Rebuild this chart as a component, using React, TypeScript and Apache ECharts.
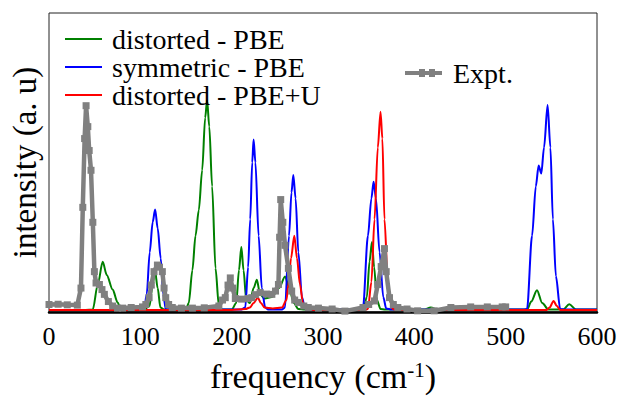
import React, { useEffect, useRef } from "react";
import * as echarts from "echarts";

const FONT = "Liberation Serif";

const tickValues = [0, 100, 200, 300, 400, 500, 600];

const greenFreq = [0, 40, 47.9, 53.4, 58.8, 63.2, 69.7, 75.1, 78.8, 104, 110, 113, 116, 119, 122, 126, 150, 153, 157, 160.4, 164, 167.7, 171, 173.1, 175.5, 178.6, 182.3, 186, 190, 200, 205, 208, 210.6, 213, 216, 220, 224, 227.6, 231, 236, 244, 252, 258.4, 263, 268, 273, 280, 344, 348, 351, 353.6, 356, 359, 363, 368, 410, 418, 426, 523.4, 528, 534.3, 540, 547, 563, 569.6, 577, 600];
const greenInt = [0.7, 0.7, 0.8, 9.2, 16.8, 12.4, 7.5, 3.2, 0.8, 0.8, 2, 8, 14, 8, 1.5, 0.8, 0.8, 3, 14, 25.5, 34, 47.4, 65, 70.8, 62, 42, 14.6, 2, 0.8, 0.8, 3, 14, 21.7, 14, 4, 3, 8, 10.8, 6, 4.5, 5, 8, 11.9, 8, 3, 1, 0.8, 0.8, 5, 17, 23.4, 15, 4, 1, 0.8, 0.8, 1.5, 0.8, 0.8, 3.5, 7.3, 3, 0.8, 0.8, 2.6, 0.8, 0.8];

const blueFreq = [0, 100, 104.2, 107, 110.3, 113.5, 116.2, 119, 122.3, 125, 128, 210, 214.9, 218, 220.3, 222.5, 224, 226, 229.5, 233, 236.7, 240, 255, 258.4, 262.8, 265.5, 267.5, 270, 273, 277, 280.2, 285, 340, 343.8, 349.2, 353, 355.4, 358, 361.9, 366, 369.2, 375, 520, 523.4, 528.9, 533, 536.1, 539, 542, 545.9, 549, 551.7, 555, 559.7, 565, 600];
const blueInt = [0.7, 0.7, 0.8, 6, 20, 30, 34.3, 28, 18, 6, 0.8, 0.8, 1.5, 15, 31, 50, 57.7, 50, 25.5, 8, 1.5, 0.8, 0.8, 1.5, 25.5, 40, 45.8, 38, 20, 5, 1.2, 0.8, 0.8, 1.5, 25.5, 38, 43.6, 38, 20, 5, 1.2, 0.8, 0.8, 1, 25.5, 42, 49, 46.3, 55, 69.2, 55, 31, 12, 1, 0.8, 0.8];

const redFreq = [0, 200, 215, 220, 224, 228.7, 232, 236, 245, 255, 260, 262.1, 265, 268.6, 271.5, 274.8, 278, 282, 290, 345, 349.2, 353, 356.4, 360, 363, 365, 367.3, 371, 374, 376.5, 380, 545, 548, 552.5, 556, 559.7, 600];
const redInt = [0.7, 0.7, 1, 1.5, 3, 4.8, 3, 1.5, 1.2, 1.5, 4, 9.2, 18, 25.5, 18, 9.2, 3, 1, 0.7, 0.7, 1, 10, 31, 55, 67, 58, 31, 10, 3, 1, 0.7, 0.7, 1.5, 3.7, 2, 0.7, 0.7];

const exptFreq = [0, 10, 20, 31, 35, 37, 39, 40.6, 42.5, 44, 46, 48, 49.7, 51.5, 55.2, 58, 60.6, 65, 69.7, 75, 80.6, 90, 102.4, 106, 109.6, 112, 115, 118.7, 121, 124.1, 126, 127.8, 131, 135, 145, 157, 170, 186, 190, 193, 196, 198.5, 201, 204, 211, 218, 222, 226, 231.2, 238, 244, 248, 251.2, 252.5, 253.7, 256, 258.4, 262.1, 265.7, 269, 273, 279, 283.9, 295, 310, 324, 343.8, 350, 356.4, 360, 363.7, 367.3, 369.2, 372.8, 377, 381.9, 392, 403.6, 421.7, 440, 461.7, 479.9, 496.2, 500];
const exptInt = [2.5, 2.6, 2.4, 2.3, 8, 35, 58, 69, 62, 54, 47.4, 30, 13.5, 9.7, 9.2, 7.5, 5.9, 3.5, 2, 1.3, 1.3, 1.5, 1.7, 2.5, 4.8, 9, 13.5, 15.7, 15, 13.5, 8, 4.8, 2.5, 1.5, 1.3, 1.3, 1.4, 2, 4, 4.8, 9, 11.4, 8, 4.5, 4.3, 4.5, 4.8, 5.8, 6.5, 6, 5.9, 7, 9.2, 25, 37.6, 30, 22.3, 14.6, 7, 4, 3.2, 2, 1.5, 1.3, 1, 0.3, 1.5, 2.5, 3.7, 9.2, 15.2, 21.2, 13.5, 4.8, 2.5, 1.5, 1, 0.4, 0.4, 1.5, 1.7, 1.7, 1.7, 1.7];

const zip = (xs: number[], ys: number[]) => xs.map((x, i) => [x, ys[i]]);

export default function App() {
  const ref = useRef<HTMLDivElement>(null);
  useEffect(() => {
    if (!ref.current) return;
    const chart = echarts.init(ref.current, null, { renderer: "svg" });
    const calc = (name: string, color: string, data: number[][]) => ({
      name,
      type: "line",
      data,
      symbol: "none",
      smooth: 0.3,
      smoothMonotone: "x",
      lineStyle: { color, width: 2 },
      itemStyle: { color },
      z: 3,
    });
    chart.setOption({
      animation: false,
      backgroundColor: "#fff",
      grid: {
        left: 46,
        right: 24,
        top: 13,
        bottom: 81,
        show: true,
        borderColor: "#222",
        borderWidth: 1,
        backgroundColor: "transparent",
      },
      legend: [
        {
          data: ["distorted - PBE", "symmetric - PBE", "distorted - PBE+U"],
          orient: "vertical",
          left: 60,
          top: 20,
          icon: "path://M0,0H37V2H0Z",
          itemWidth: 37,
          itemHeight: 2,
          itemGap: 0,
          textStyle: { fontFamily: FONT, fontSize: 28, color: "#000", lineHeight: 28, padding: [0, 0, 0, 5] },
        },
        {
          data: ["Expt."],
          left: 400,
          top: 54,
          icon: "path://M0,2H37V6H0Z M14,0H20V8H14Z M24,0H30V8H24Z",
          itemWidth: 37,
          itemHeight: 8,
          textStyle: { fontFamily: FONT, fontSize: 28, color: "#000", lineHeight: 28, padding: [0, 0, 0, 6] },
        },
      ],
      xAxis: {
        type: "value",
        min: 0,
        max: 600,
        interval: 100,
        axisLine: { show: true, onZero: false, lineStyle: { color: "#000", width: 2.5 } },
        axisTick: { show: false },
        splitLine: { show: false },
        axisLabel: {
          fontFamily: FONT,
          fontSize: 26,
          color: "#000",
          margin: 11,
          formatter: (v: number) => (tickValues.includes(v) ? String(v) : ""),
        },
        name: "frequency (cm{sup|-1})",
        nameLocation: "middle",
        nameGap: 47,
        nameTextStyle: {
          fontFamily: FONT,
          fontSize: 34,
          color: "#000",
          rich: {
            sup: { fontFamily: FONT, fontSize: 21, color: "#000", verticalAlign: "top", lineHeight: 20, padding: [0, 0, 14, 0] },
          },
        },
      },
      yAxis: {
        type: "value",
        min: 0,
        max: 100,
        axisLine: { show: false },
        axisTick: { show: false },
        axisLabel: { show: false },
        splitLine: { show: false },
        name: "intensity (a. u)",
        nameLocation: "middle",
        nameGap: 8,
        nameTextStyle: { fontFamily: FONT, fontSize: 33, color: "#000" },
      },
      series: [
        calc("distorted - PBE", "#008000", zip(greenFreq, greenInt)),
        calc("symmetric - PBE", "#0000ff", zip(blueFreq, blueInt)),
        calc("distorted - PBE+U", "#ff0000", zip(redFreq, redInt)),
        {
          name: "Expt.",
          type: "line",
          data: zip(exptFreq, exptInt),
          symbol: "rect",
          symbolSize: 7,
          showSymbol: true,
          lineStyle: { color: "#808080", width: 4.5 },
          itemStyle: { color: "#808080" },
          z: 4,
        },
      ],
    });
    return () => chart.dispose();
  }, []);
  return <div ref={ref} style={{ width: 621, height: 399, position: "absolute", left: 0, top: 0 }} />;
}
